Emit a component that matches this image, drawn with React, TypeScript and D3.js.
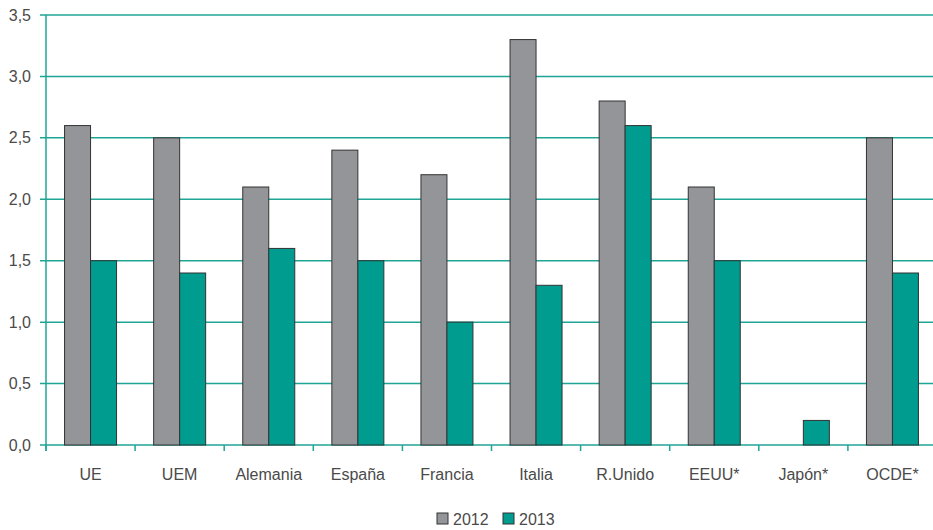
import React from "react";
import * as d3 from "d3";

const categories = ["UE", "UEM", "Alemania", "España", "Francia", "Italia", "R.Unido", "EEUU*", "Japón*", "OCDE*"];
const series2012: (number | null)[] = [2.6, 2.5, 2.1, 2.4, 2.2, 3.3, 2.8, 2.1, null, 2.5];
const series2013: (number | null)[] = [1.5, 1.4, 1.6, 1.5, 1.0, 1.3, 2.6, 1.5, 0.2, 1.4];
const yTicks = [0, 0.5, 1, 1.5, 2, 2.5, 3, 3.5];
const seriesNames = ["2012", "2013"];
const colors = ["#939598", "#009C8F"];

export default function App() {
  const W = 933, H = 530;
  const left = 46, right = 937, top = 15, bottom = 445;
  const x = d3.scaleBand<string>().domain(categories).range([left, right]);
  const y = d3.scaleLinear().domain([0, 3.5]).range([bottom, top]);
  const barW = 26;
  const grid = "#1FA596";
  const font = "'Liberation Sans', Arial, sans-serif";
  const txt = "#4a4a4a";
  const series = [series2012, series2013];
  return (
    <svg width={W} height={H} style={{ position: "absolute", left: 0, top: 0 }}>
      {yTicks.map((t) => (
        <g key={t}>
          <line x1={left - 6} x2={W} y1={y(t)} y2={y(t)} stroke={grid} strokeWidth={1.5} />
          <text x={31} y={y(t) + 5.5} textAnchor="end" fontFamily={font} fontSize={16} fill={txt}>
            {d3.format(".1f")(t).replace(".", ",")}
          </text>
        </g>
      ))}
      <line x1={left} x2={left} y1={top} y2={bottom + 6} stroke={grid} strokeWidth={1.5} />
      {categories.map((c) => (
        <line key={c} x1={x(c)!} x2={x(c)!} y1={bottom} y2={bottom + 6} stroke={grid} strokeWidth={1.5} />
      ))}
      {categories.map((c, i) => {
        const cx = x(c)! + x.bandwidth() / 2;
        return (
          <g key={c}>
            {series.map((s, k) => {
              const v = s[i];
              if (v == null) return null;
              const bx = cx - barW + k * barW;
              return (
                <rect key={k} x={bx} y={y(v)} width={barW} height={bottom - y(v)} fill={colors[k]} stroke="#333" strokeWidth={1} />
              );
            })}
            <text x={cx} y={480} textAnchor="middle" fontFamily={font} fontSize={16} fill={txt}>{c}</text>
          </g>
        );
      })}
      {seriesNames.map((n, k) => (
        <g key={n} transform={`translate(${437 + k * 66},513)`}>
          <rect x={0} y={0} width={11} height={11} fill={colors[k]} stroke="#333" strokeWidth={1} />
          <text x={16} y={11.5} fontFamily={font} fontSize={16} fill={txt}>{n}</text>
        </g>
      ))}
    </svg>
  );
}
